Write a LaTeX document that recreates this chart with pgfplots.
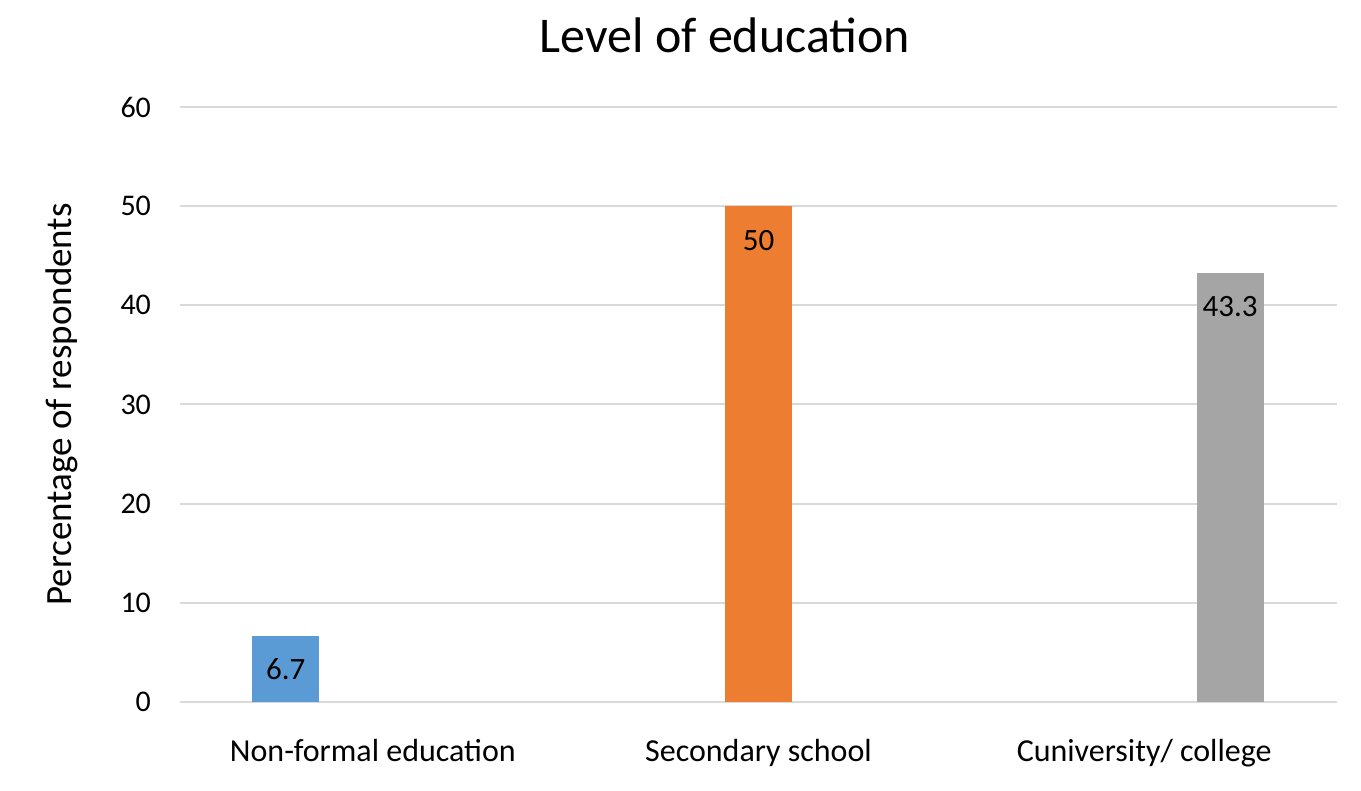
\documentclass[border=0pt]{standalone}
\usepackage{pgfplots}
\pgfplotsset{compat=1.18}
\usepackage{fontspec}
\setmainfont{Carlito}
\definecolor{cblue}{HTML}{5B9BD5}
\definecolor{corange}{HTML}{ED7D31}
\definecolor{cgray}{HTML}{A5A5A5}
\definecolor{gridc}{HTML}{D9D9D9}
\begin{document}
\begin{tikzpicture}[x=1pt,y=1pt]
\path[use as bounding box] (-90,-44.5) rectangle (590.5,351);
\begin{axis}[
  at={(0,0)}, anchor=south west,
  scale only axis, width=578.5pt, height=297.5pt,
  xmin=0, xmax=3, ymin=0, ymax=60,
  ytick={0,10,...,60},
  xtick={0.5,1.5,2.5},
  xticklabels={Non-formal education, Secondary school, Cuniversity/ college},
  ymajorgrids, grid style={draw=gridc, line width=1pt},
  axis line style={draw=none},
  major tick length=0pt,
  /pgf/number format/assume math mode=true,
  yticklabel style={font=\fontsize{15}{18}\selectfont, xshift=-11pt},
  xticklabel style={font=\fontsize{16}{19}\selectfont, yshift=-15pt},
  ylabel={Percentage of respondents},
  every axis y label/.style={at={(rel axis cs:-0.102,0.5)}, rotate=90, anchor=center, font=\fontsize{18.5}{22}\selectfont},
  clip=false,
]
\addplot[ybar, fill=cblue, draw=none, bar width=0.174, nodes near coords,
  every node near coord/.append style={anchor=center, yshift=-17pt, font=\fontsize{15.5}{18}\selectfont, text=black}]
  coordinates {(0.274,6.7)};
\addplot[ybar, fill=corange, draw=none, bar width=0.174, nodes near coords,
  every node near coord/.append style={anchor=center, yshift=-17pt, font=\fontsize{15.5}{18}\selectfont, text=black}]
  coordinates {(1.5,50)};
\addplot[ybar, fill=cgray, draw=none, bar width=0.174, nodes near coords,
  every node near coord/.append style={anchor=center, yshift=-17pt, font=\fontsize{15.5}{18}\selectfont, text=black}]
  coordinates {(2.723,43.3)};
\node[font=\fontsize{25}{30}\selectfont] at (rel axis cs:0.471,1.121) {Level of education};
\end{axis}
\end{tikzpicture}
\end{document}
